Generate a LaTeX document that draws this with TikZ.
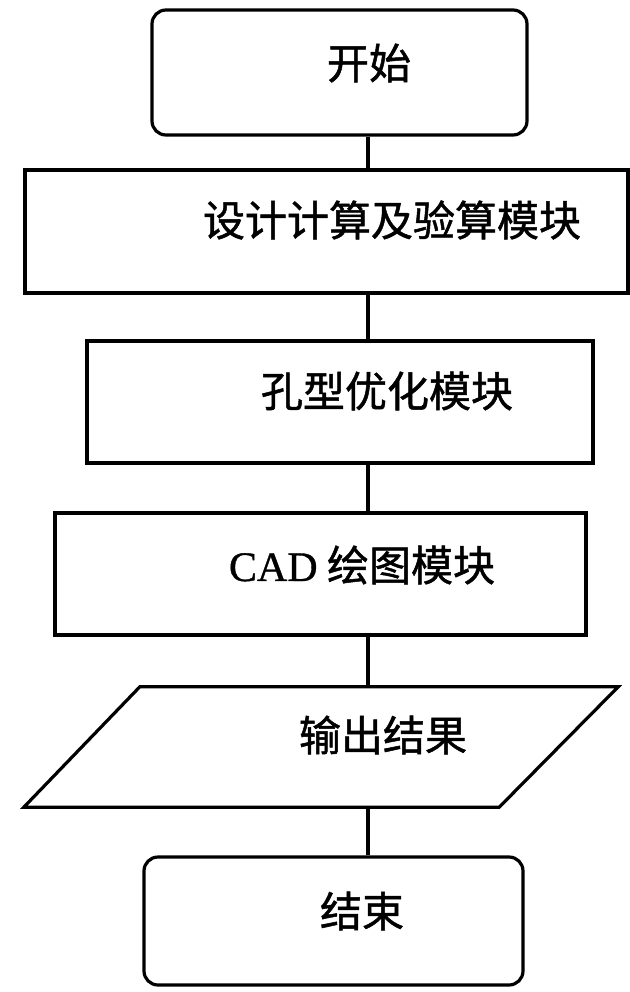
\documentclass[tikz,border=0pt]{standalone}
\usepackage{fontspec}
\setmainfont{Liberation Serif}
\newfontfamily\cjk{Noto Sans CJK SC}[FakeBold=1.2]
\newfontfamily\latn{Liberation Serif}[FakeBold=0.8]
\begin{document}
\begin{tikzpicture}[x=1pt,y=-1pt,
  box/.style={draw, line width=3.2pt, inner sep=0pt},
  term/.style={box, rounded corners=14pt},
  lbl/.style={font=\fontsize{42}{46}\selectfont\cjk, inner sep=0pt},
  link/.style={line width=3.2pt}]
\useasboundingbox (0,0) rectangle (629,992);
\fill[white] (0,0) rectangle (629,992);
\coordinate (axis) at (368,0);
% shapes
\node[term, minimum width=375pt, minimum height=125pt] (start) at (339.5,72.5) {};
\node[box, minimum width=603pt, minimum height=123pt] (calc) at (326.5,231.5) {};
\node[box, minimum width=506pt, minimum height=122pt] (opt) at (340,402) {};
\node[box, minimum width=531pt, minimum height=122pt] (cad) at (320.5,574) {};
\node[minimum width=594pt, minimum height=120pt, inner sep=0pt] (out) at (321,747) {};
\draw[link, line join=miter] ([xshift=116pt]out.north west) -- (out.north east) -- ([xshift=-119pt]out.south east) -- (out.south west) -- cycle;
\node[term, minimum width=379pt, minimum height=128pt] (stop) at (333.5,921) {};
% labels
\node[lbl] (tstart) at (369,63) {开始};
\node[lbl] (tcalc) at (392,220) {设计计算及验算模块};
\node[lbl] (topt) at (387,391) {孔型优化模块};
\node[lbl] (tcad) at (362,565) {{\latn CAD} 绘图模块};
\node[lbl] (tout) at (383,735) {输出结果};
\node[lbl] (tstop) at (362,911) {结束};
% connectors
\draw[link] (start.south -| axis) -- (calc.north -| axis);
\draw[link] (calc.south -| axis) -- (opt.north -| axis);
\draw[link] (opt.south -| axis) -- (cad.north -| axis);
\draw[link] (cad.south -| axis) -- (out.north -| axis);
\draw[link] (out.south -| axis) -- (stop.north -| axis);
\end{tikzpicture}
\end{document}
